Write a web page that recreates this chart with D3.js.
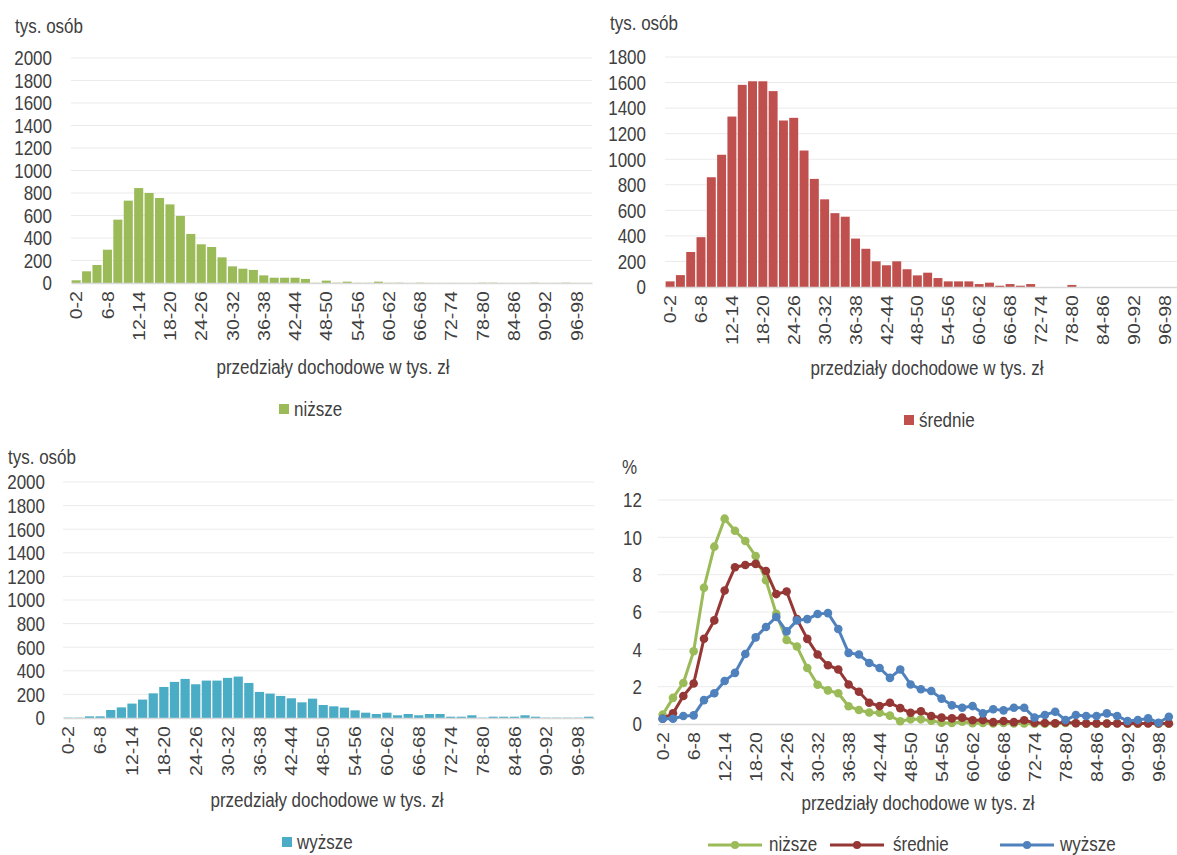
<!DOCTYPE html>
<html>
<head>
<meta charset="utf-8">
<script src="https://cdn.jsdelivr.net/npm/d3@7/dist/d3.min.js"></script>
<style>
  html, body { margin: 0; padding: 0; background: #ffffff; }
  svg { display: block; }
  text { font-family: 'Liberation Sans', Arial, sans-serif; fill: #404040; }
</style>
</head>
<body>
<svg id="chart" width="1177" height="855"></svg>
<script>
// ---------- DATA ----------
const categories = ["0-2","2-4","4-6","6-8","8-10","10-12","12-14","14-16","16-18","18-20",
  "20-22","22-24","24-26","26-28","28-30","30-32","32-34","34-36","36-38","38-40",
  "40-42","42-44","44-46","46-48","48-50","50-52","52-54","54-56","56-58","58-60",
  "60-62","62-64","64-66","66-68","68-70","70-72","72-74","74-76","76-78","78-80",
  "80-82","82-84","84-86","86-88","88-90","90-92","92-94","94-96","96-98","98-100"];

// thousands of persons
const lowerCounts = [24,104,160,296,563,732,844,800,756,699,
  596,436,344,320,228,148,127,116,68,47,
  47,47,36,2,21,3,12,2,2,12,
  2,3,1,3,1,1,1,1,1,3,
  3,1,1,1,3,1,1,3,1,1];
const middleCounts = [44,93,274,390,859,1035,1334,1582,1610,1610,
  1533,1303,1324,1068,846,686,578,550,379,299,
  201,170,201,139,91,112,70,44,44,44,
  23,34,10,23,10,23,0,0,0,16,
  0,0,0,0,0,0,0,0,0,0];
const upperCounts = [3,3,14,14,68,90,122,156,209,263,
  306,331,286,317,317,340,351,297,221,207,
  187,167,133,164,110,99,88,65,45,34,
  45,23,34,23,34,34,11,11,23,3,
  11,11,11,23,11,3,3,3,3,11];

// percent shares
const lowerPct = [0.5,1.4,2.2,3.9,7.3,9.5,11.0,10.35,9.8,9.0,
  7.7,5.9,4.5,4.15,3.0,2.1,1.8,1.65,0.95,0.75,
  0.62,0.6,0.45,0.15,0.25,0.25,0.18,0.07,0.05,0.12,
  0.04,0.05,0.03,0.05,0.03,0.03,0.02,0.02,0.02,0.05,
  0.04,0.02,0.02,0.02,0.04,0.02,0.02,0.04,0.02,0.02];
const middlePct = [0.28,0.57,1.5,2.17,4.57,5.55,7.15,8.4,8.52,8.58,
  8.2,6.96,7.1,5.62,4.56,3.72,3.15,2.92,2.12,1.73,
  1.14,0.96,1.14,0.85,0.6,0.68,0.43,0.34,0.3,0.34,
  0.2,0.21,0.1,0.16,0.1,0.2,0.07,0.05,0.04,0.1,
  0.04,0.03,0.03,0.03,0.03,0.03,0.03,0.03,0.03,0.03];
const upperPct = [0.28,0.28,0.43,0.46,1.28,1.65,2.3,2.74,3.75,4.64,
  5.2,5.73,4.96,5.55,5.62,5.89,5.94,5.09,3.81,3.72,
  3.27,3.0,2.47,2.92,2.12,1.86,1.77,1.36,1.0,0.87,
  0.96,0.57,0.79,0.73,0.87,0.87,0.34,0.48,0.66,0.21,
  0.48,0.43,0.43,0.57,0.43,0.16,0.21,0.3,0.07,0.39];

const ticks2000 = [0,200,400,600,800,1000,1200,1400,1600,1800,2000];
const ticks1800 = [0,200,400,600,800,1000,1200,1400,1600,1800];
const ticksPct = [0,2,4,6,8,10,12];

const unitLabel = "tys. osób";
const pctLabel = "%";
const xTitle = "przedziały dochodowe w tys. zł";
const seriesNames = ["niższe", "średnie", "wyższe"];

// ---------- STYLE ----------
const barColors = ["#9BBB59", "#C0504D", "#4BACC6"];
const lineColors = ["#9BBB59", "#953735", "#4F81BD"];
const FS = 17;
const SY = 1.15; // vertical glyph stretch seen in the reference
const gridColor = "#ebebeb";
const axisColor = "#d9d9d9";
const FONT = "'Liberation Sans', Arial, sans-serif";

const svg = d3.select("#chart");
svg.append("rect").attr("width", 1177).attr("height", 855).attr("fill", "#fff");

// place a horizontal text with vertical stretch
function label(g, x, y, str, anchor) {
  return g.append("text")
    .attr("transform", `translate(${x},${y}) scale(1,${SY})`)
    .attr("font-size", FS).attr("text-anchor", anchor || "start")
    .attr("dy", "0.35em").text(str);
}

function frame(g, cfg, y, ticks) {
  g.append("g").selectAll("line").data(ticks.filter(t => t !== 0)).join("line")
    .attr("x1", cfg.left).attr("x2", cfg.right)
    .attr("y1", d => y(d)).attr("y2", d => y(d))
    .attr("stroke", gridColor).attr("stroke-width", 1);
  const ya = g.append("g").attr("transform", `translate(${cfg.yLabelX},0)`)
    .call(d3.axisLeft(y).tickValues(ticks).tickSize(0).tickPadding(0).tickFormat(d3.format("d")));
  ya.select(".domain").remove();
  ya.selectAll("text").attr("font-size", FS).attr("fill", "#404040")
    .style("font-family", FONT)
    .attr("x", 0).attr("dy", "0.35em")
    .attr("transform", `scale(1,${SY})`);
}

function xAxis(g, x, y0) {
  const xa = g.append("g").attr("transform", `translate(0,${y0})`)
    .call(d3.axisBottom(x).tickValues(categories.filter((d, i) => i % 3 === 0)).tickSize(0));
  xa.select(".domain").attr("stroke", axisColor).attr("stroke-width", 1.5);
  xa.selectAll("text")
    .attr("font-size", FS).attr("fill", "#404040")
    .style("font-family", FONT)
    .attr("text-anchor", "end")
    .attr("transform", `scale(1,${SY}) rotate(-90)`)
    .attr("x", -7).attr("y", 0).attr("dy", "0.36em");
}

function barPanel(cfg) {
  const g = svg.append("g");
  const x = d3.scaleBand().domain(categories).range([cfg.left, cfg.right]).paddingInner(0.13).paddingOuter(0.06);
  const y = d3.scaleLinear().domain([0, cfg.max]).range([cfg.bottom, cfg.top]);
  frame(g, cfg, y, cfg.ticks);
  g.append("g").selectAll("rect").data(categories.map((c, i) => ({c, v: cfg.values[i]}))).join("rect")
    .attr("x", d => x(d.c)).attr("width", x.bandwidth())
    .attr("y", d => y(d.v)).attr("height", d => y(0) - y(d.v))
    .attr("fill", cfg.color);
  xAxis(g, x, cfg.bottom);
  label(g, cfg.unitX, cfg.unitY, unitLabel);
  label(g, cfg.titleX, cfg.titleY, xTitle, "middle");
  g.append("rect").attr("x", cfg.legX).attr("y", cfg.legY - 5).attr("width", 10).attr("height", 10).attr("fill", cfg.color);
  label(g, cfg.legX + 15, cfg.legY, cfg.name);
}

barPanel({left: 71, right: 592, top: 58, bottom: 283, max: 2000, ticks: ticks2000, yLabelX: 52,
  values: lowerCounts, color: barColors[0], unitX: 15, unitY: 26, titleX: 333, titleY: 367,
  legX: 279, legY: 409, name: seriesNames[0]});
barPanel({left: 665, right: 1180, top: 57, bottom: 287, max: 1800, ticks: ticks1800, yLabelX: 646,
  values: middleCounts, color: barColors[1], unitX: 610, unitY: 23, titleX: 927, titleY: 368,
  legX: 904, legY: 420, name: seriesNames[1]});
barPanel({left: 63, right: 594, top: 482, bottom: 718, max: 2000, ticks: ticks2000, yLabelX: 45,
  values: upperCounts, color: barColors[2], unitX: 8, unitY: 457, titleX: 327, titleY: 800,
  legX: 282, legY: 842, name: seriesNames[2]});

// ---------- LINE PANEL ----------
(function linePanel() {
  const cfg = {left: 657.5, right: 1174, top: 500, bottom: 724, yLabelX: 642};
  const g = svg.append("g");
  const x = d3.scaleBand().domain(categories).range([cfg.left, cfg.right]);
  const y = d3.scaleLinear().domain([0, 12]).range([cfg.bottom, cfg.top]);
  frame(g, cfg, y, ticksPct);
  const cx = c => x(c) + x.bandwidth() / 2;
  xAxis(g, x, cfg.bottom);
  const series = [lowerPct, middlePct, upperPct];
  const line = d3.line().x(d => cx(d.c)).y(d => y(d.v));
  series.forEach((vals, s) => {
    const pts = categories.map((c, i) => ({c, v: vals[i]}));
    g.append("path").datum(pts).attr("d", line).attr("fill", "none")
      .attr("stroke", lineColors[s]).attr("stroke-width", 3).attr("stroke-linejoin", "round");
    g.append("g").selectAll("circle").data(pts).join("circle")
      .attr("cx", d => cx(d.c)).attr("cy", d => y(d.v)).attr("r", 4.3)
      .attr("fill", lineColors[s]);
  });
  label(g, 622, 467, pctLabel);
  label(g, 918, 803, xTitle, "middle");
  const leg = [{x: 708, tx: 769}, {x: 830, tx: 893}, {x: 1000, tx: 1060}];
  leg.forEach((L, s) => {
    g.append("line").attr("x1", L.x).attr("x2", L.x + 54).attr("y1", 845).attr("y2", 845)
      .attr("stroke", lineColors[s]).attr("stroke-width", 3);
    g.append("circle").attr("cx", L.x + 27).attr("cy", 845).attr("r", 4).attr("fill", lineColors[s]);
    label(g, L.tx, 844, seriesNames[s]);
  });
})();
</script>
</body>
</html>
